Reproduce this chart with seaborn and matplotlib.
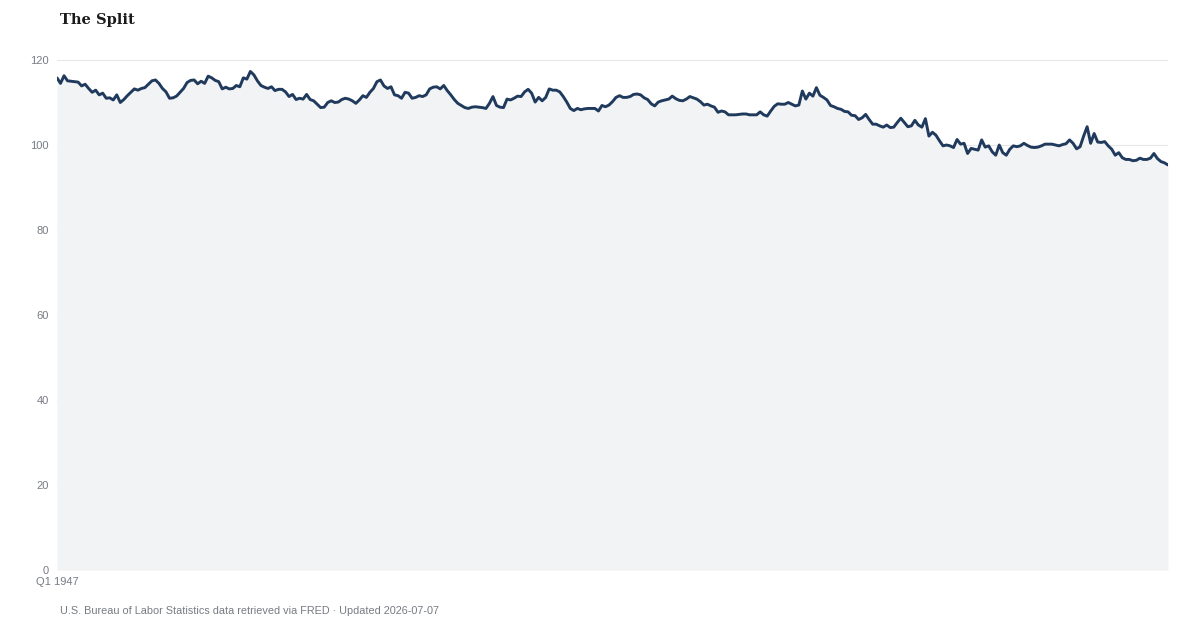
import numpy as np
import pandas as pd
import seaborn as sns
import matplotlib.pyplot as plt

# quarterly index values, Q1 1947 .. Q1 2026
start_year = 1947
values = [
    115.8, 114.5, 116.3, 115.1,  # 1947
    115.0, 114.9, 114.8, 113.9,  # 1948
    114.3, 113.3, 112.4, 112.9,  # 1949
    111.8, 112.2, 111.0, 111.1,  # 1950
    110.6, 111.8, 110.0, 110.7,  # 1951
    111.6, 112.4, 113.2, 112.9,  # 1952
    113.3, 113.5, 114.3, 115.1,  # 1953
    115.3, 114.5, 113.3, 112.5,  # 1954
    111.0, 111.1, 111.5, 112.4,  # 1955
    113.3, 114.7, 115.2, 115.3,  # 1956
    114.4, 115.0, 114.5, 116.2,  # 1957
    115.8, 115.2, 114.9, 113.2,  # 1958
    113.6, 113.2, 113.3, 114.0,  # 1959
    113.7, 115.8, 115.5, 117.3,  # 1960
    116.5, 115.1, 114.0, 113.6,  # 1961
    113.3, 113.7, 112.8, 113.1,  # 1962
    113.1, 112.5, 111.4, 111.9,  # 1963
    110.7, 111.0, 110.8, 111.9,  # 1964
    110.7, 110.4, 109.6, 108.8,  # 1965
    108.9, 110.0, 110.4, 110.0,  # 1966
    110.1, 110.7, 111.0, 110.8,  # 1967
    110.4, 109.8, 110.6, 111.6,  # 1968
    111.2, 112.4, 113.3, 114.9,  # 1969
    115.3, 113.9, 113.3, 113.7,  # 1970
    111.8, 111.6, 111.0, 112.4,  # 1971
    112.2, 111.0, 111.2, 111.6,  # 1972
    111.4, 111.8, 113.2, 113.6,  # 1973
    113.7, 113.2, 114.0, 112.8,  # 1974
    111.8, 110.7, 109.8, 109.3,  # 1975
    108.8, 108.6, 108.9, 109.0,  # 1976
    108.9, 108.8, 108.6, 109.8,  # 1977
    111.4, 109.3, 108.9, 108.8,  # 1978
    110.8, 110.6, 111.0, 111.5,  # 1979
    111.4, 112.5, 113.1, 112.2,  # 1980
    110.1, 111.2, 110.4, 111.2,  # 1981
    113.2, 112.9, 112.9, 112.5,  # 1982
    111.4, 110.1, 108.6, 108.1,  # 1983
    108.6, 108.3, 108.5, 108.6,  # 1984
    108.6, 108.6, 108.0, 109.3,  # 1985
    109.0, 109.4, 110.2, 111.2,  # 1986
    111.6, 111.2, 111.2, 111.4,  # 1987
    111.9, 112.0, 111.8, 111.1,  # 1988
    110.7, 109.7, 109.2, 110.1,  # 1989
    110.4, 110.6, 110.8, 111.5,  # 1990
    110.9, 110.5, 110.4, 110.8,  # 1991
    111.4, 111.1, 110.8, 110.2,  # 1992
    109.4, 109.6, 109.2, 108.9,  # 1993
    107.7, 108.0, 107.8, 107.1,  # 1994
    107.1, 107.1, 107.2, 107.3,  # 1995
    107.3, 107.1, 107.1, 107.1,  # 1996
    107.8, 107.1, 106.8, 108.0,  # 1997
    109.1, 109.7, 109.6, 109.6,  # 1998
    110.0, 109.6, 109.2, 109.4,  # 1999
    112.7, 110.8, 112.2, 111.5,  # 2000
    113.5, 111.7, 111.2, 110.6,  # 2001
    109.3, 109.0, 108.6, 108.4,  # 2002
    107.9, 107.8, 107.0, 106.9,  # 2003
    106.0, 106.4, 107.2, 106.0,  # 2004
    104.9, 104.9, 104.5, 104.2,  # 2005
    104.7, 104.1, 104.2, 105.3,  # 2006
    106.3, 105.3, 104.3, 104.5,  # 2007
    105.8, 104.7, 104.2, 106.2,  # 2008
    102.1, 103.0, 102.3, 101.0,  # 2009
    99.8, 100.0, 99.8, 99.4,     # 2010
    101.3, 100.2, 100.4, 98.0,   # 2011
    99.2, 99.0, 98.8, 101.2,     # 2012
    99.5, 99.8, 98.4, 97.6,      # 2013
    100.0, 98.2, 97.6, 99.0,     # 2014
    99.8, 99.6, 99.8, 100.4,     # 2015
    99.9, 99.5, 99.4, 99.5,      # 2016
    99.8, 100.2, 100.2, 100.2,   # 2017
    100.0, 99.8, 100.1, 100.3,   # 2018
    101.2, 100.4, 99.1, 99.6,    # 2019
    102.1, 104.3, 100.4, 102.7,  # 2020
    100.7, 100.6, 100.8, 99.8,   # 2021
    99.0, 97.6, 98.2, 97.0,      # 2022
    96.6, 96.6, 96.3, 96.4,      # 2023
    96.9, 96.6, 96.6, 96.9,      # 2024
    98.0, 96.8, 96.1, 95.8,      # 2025
    95.3,                        # 2026
]
quarters = [f"Q{i % 4 + 1} {start_year + i // 4}" for i in range(len(values))]
y_ticks = [0, 20, 40, 60, 80, 100, 120]

title = "The Split"
caption = "U.S. Bureau of Labor Statistics data retrieved via FRED \u00b7 Updated 2026-07-07"

df = pd.DataFrame({"quarter": quarters, "value": values})
df["pos"] = np.arange(len(df))

sns.set_theme(style="white")
plt.rcParams["font.family"] = ["Liberation Sans", "DejaVu Sans"]

fig = plt.figure(figsize=(12, 6.3), dpi=100)
ax = fig.add_axes([57 / 1200, 1 - 570 / 630, (1168 - 57) / 1200, 510 / 630])

line_col = "#1f3a5c"
ax.fill_between(df["pos"], 0, df["value"], color="#f2f3f5", lw=0, zorder=1)
sns.lineplot(data=df, x="pos", y="value", color=line_col, linewidth=2.1, ax=ax, zorder=3)

ax.set_xlim(0, len(df) - 1)
ax.set_ylim(0, 120)
ax.set_yticks(y_ticks)
ax.set_yticklabels([str(t) for t in y_ticks], fontsize=8, color="#777b82")
ax.set_xticks([0])
ax.set_xticklabels([quarters[0]], fontsize=8, color="#777b82")
ax.tick_params(axis="y", length=0, pad=6)
ax.tick_params(axis="x", length=0, pad=5)
ax.yaxis.grid(True, color="#e6e7ea", linewidth=0.8, zorder=0)
ax.set_axisbelow(True)
for s in ax.spines.values():
    s.set_visible(False)
ax.axhline(0, color="#d9dbdf", linewidth=0.8, zorder=2)
ax.set_xlabel("")
ax.set_ylabel("")

fig.text(60 / 1200, 1 - 20 / 630, title, fontsize=10.5, fontweight="bold",
         family=["DejaVu Serif"], color="#1a1a1a", va="center", ha="left")
fig.text(60 / 1200, 1 - 611 / 630, caption, fontsize=7.8, color="#777b82",
         va="center", ha="left")

fig.savefig("out.png", dpi=100)
